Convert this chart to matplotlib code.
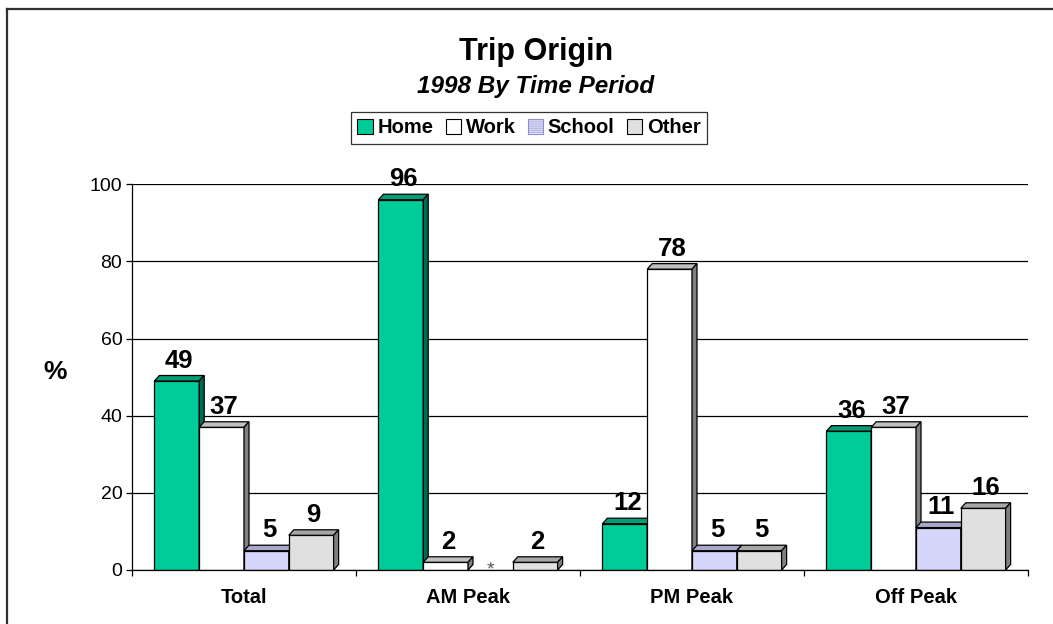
import matplotlib
matplotlib.use("Agg")
import matplotlib.pyplot as plt
from matplotlib.patches import Polygon, Patch
from matplotlib.lines import Line2D

# ------------------------------
# data
# ------------------------------
categories = ["Total", "AM Peak", "PM Peak", "Off Peak"]
series_names = ["Home", "Work", "School", "Other"]
home = [49, 96, 12, 36]
work = [37, 2, 78, 37]
school = [5, 0, 5, 11]
other = [9, 2, 5, 16]
# value shown as "*" (less than 0.5 %)
school_labels = ["5", "*", "5", "11"]

plt.rcParams["font.family"] = ["Liberation Sans", "DejaVu Sans"]
plt.rcParams["hatch.linewidth"] = 0.6

W, H = 1053, 624
fig = plt.figure(figsize=(W / 100, H / 100), dpi=100)

# axes in pixel positions
x0_px, x1_px = 132, 1028
y0_px, y1_px = 570, 184.3
ax = fig.add_axes([x0_px / W, 1 - y0_px / H, (x1_px - x0_px) / W, (y0_px - y1_px) / H])
ax.set_xlim(0, 4)
ax.set_ylim(0, 100)

# 3D depth in data units
dx = 5 / ((x1_px - x0_px) / 4)
dy = 5.5 / ((y0_px - y1_px) / 100)

bar_w = 0.2
offset = 0.1

# front, top, side colours
styles = {
    "Home": ("#00CC99", "#009E76", "#006B50"),
    "Work": ("#FFFFFF", "#C0C0C0", "#808080"),
    "School": ("#F4F4FF", "#A8A8CC", "#808080"),
    "Other": ("#E0E0E0", "#A6A6A6", "#808080"),
}

all_values = [home, work, school, other]
label_text = [[str(v) for v in home], [str(v) for v in work], school_labels,
              [str(v) for v in other]]

for ci in range(len(categories)):
    for si, name in enumerate(series_names):
        v = all_values[si][ci]
        x = ci + offset + si * bar_w
        z = 3 + ci * 10 + si
        front, top, side = styles[name]
        if v > 0:
            if name == "School":
                ax.bar(x, v, width=bar_w, align="edge", color=front,
                       edgecolor="#D6D6FA", hatch="-" * 24, linewidth=0, zorder=z)
                ax.bar(x, v, width=bar_w, align="edge", fill=False,
                       edgecolor="black", linewidth=0.9, zorder=z + 0.1)
            else:
                ax.bar(x, v, width=bar_w, align="edge", color=front,
                       edgecolor="black", linewidth=0.9, zorder=z)
            top_face = Polygon([(x, v), (x + bar_w, v), (x + bar_w + dx, v + dy), (x + dx, v + dy)],
                               closed=True, facecolor=top, edgecolor="black",
                               linewidth=0.9, zorder=z + 0.2, clip_on=False)
            side_face = Polygon([(x + bar_w, 0), (x + bar_w + dx, dy), (x + bar_w + dx, v + dy),
                                 (x + bar_w, v)],
                                closed=True, facecolor=side, edgecolor="black",
                                linewidth=0.9, zorder=z + 0.2, clip_on=False)
            ax.add_patch(top_face)
            ax.add_patch(side_face)
            ax.annotate(label_text[si][ci], (x + bar_w / 2 + dx / 2, v + dy),
                        xytext=(0, 2), textcoords="offset points",
                        ha="center", va="bottom", fontsize=18.5, fontweight="bold",
                        zorder=50, annotation_clip=False)
        else:
            ax.annotate(label_text[si][ci], (x + bar_w / 2, 0),
                        xytext=(0, 0), textcoords="offset points",
                        ha="center", va="center", fontsize=14, color="#555555",
                        zorder=50, annotation_clip=False)

# axes styling
ax.set_yticks([0, 20, 40, 60, 80, 100])
ax.yaxis.grid(True, color="black", linewidth=0.9)
ax.set_axisbelow(True)
ax.set_xticks([0, 1, 2, 3, 4])
ax.set_xticklabels([])
ax.set_xticks([0.5, 1.5, 2.5, 3.5], minor=True)
ax.set_xticklabels(categories, minor=True, fontsize=14.5, fontweight="bold")
ax.tick_params(axis="x", which="minor", length=0, pad=13)
ax.tick_params(axis="x", which="major", length=4.5, width=0.9, direction="out")
ax.tick_params(axis="y", length=4, width=0.9, direction="out", labelsize=14, pad=3)
for s in ["top", "right"]:
    ax.spines[s].set_visible(False)
for s in ["left", "bottom"]:
    ax.spines[s].set_linewidth(0.9)
    ax.spines[s].set_zorder(100)

ax.set_ylabel("%", fontsize=19, fontweight="bold", rotation=0, labelpad=0)
ax.yaxis.set_label_coords((55 - x0_px) / (x1_px - x0_px), (y0_px - 384) / (y0_px - y1_px))

# titles
fig.text(536 / W, 1 - 60 / H, "Trip Origin", ha="center", va="baseline",
         fontsize=22, fontweight="bold")
fig.text(536 / W, 1 - 93 / H, "1998 By Time Period", ha="center", va="baseline",
         fontsize=17.5, fontweight="bold", fontstyle="italic")

# legend
handles = [
    Patch(facecolor=styles["Home"][0], edgecolor="black", linewidth=0.8),
    Patch(facecolor=styles["Work"][0], edgecolor="black", linewidth=0.8),
    Patch(facecolor="#EEEEFF", edgecolor="#9090D0", linewidth=0.8, hatch="-" * 8),
    Patch(facecolor=styles["Other"][0], edgecolor="black", linewidth=0.8),
]
leg = fig.legend(handles, series_names, loc="center", bbox_to_anchor=(529 / W, 1 - 128 / H),
                 ncol=4, frameon=True, fancybox=False, edgecolor="black",
                 prop={"weight": "bold", "size": 14.5}, handlelength=0.75, handleheight=0.75,
                 handletextpad=0.25, columnspacing=0.6, borderpad=0.3, borderaxespad=0)
leg.get_frame().set_linewidth(0.9)

# chart frame (top and left edges visible)
fig.add_artist(Line2D([7 / W, 1], [1 - 9 / H, 1 - 9 / H], transform=fig.transFigure,
                      color="#303030", linewidth=1.6))
fig.add_artist(Line2D([7 / W, 7 / W], [0, 1 - 9 / H], transform=fig.transFigure,
                      color="#303030", linewidth=1.6))

fig.savefig("out.png", dpi=100)
